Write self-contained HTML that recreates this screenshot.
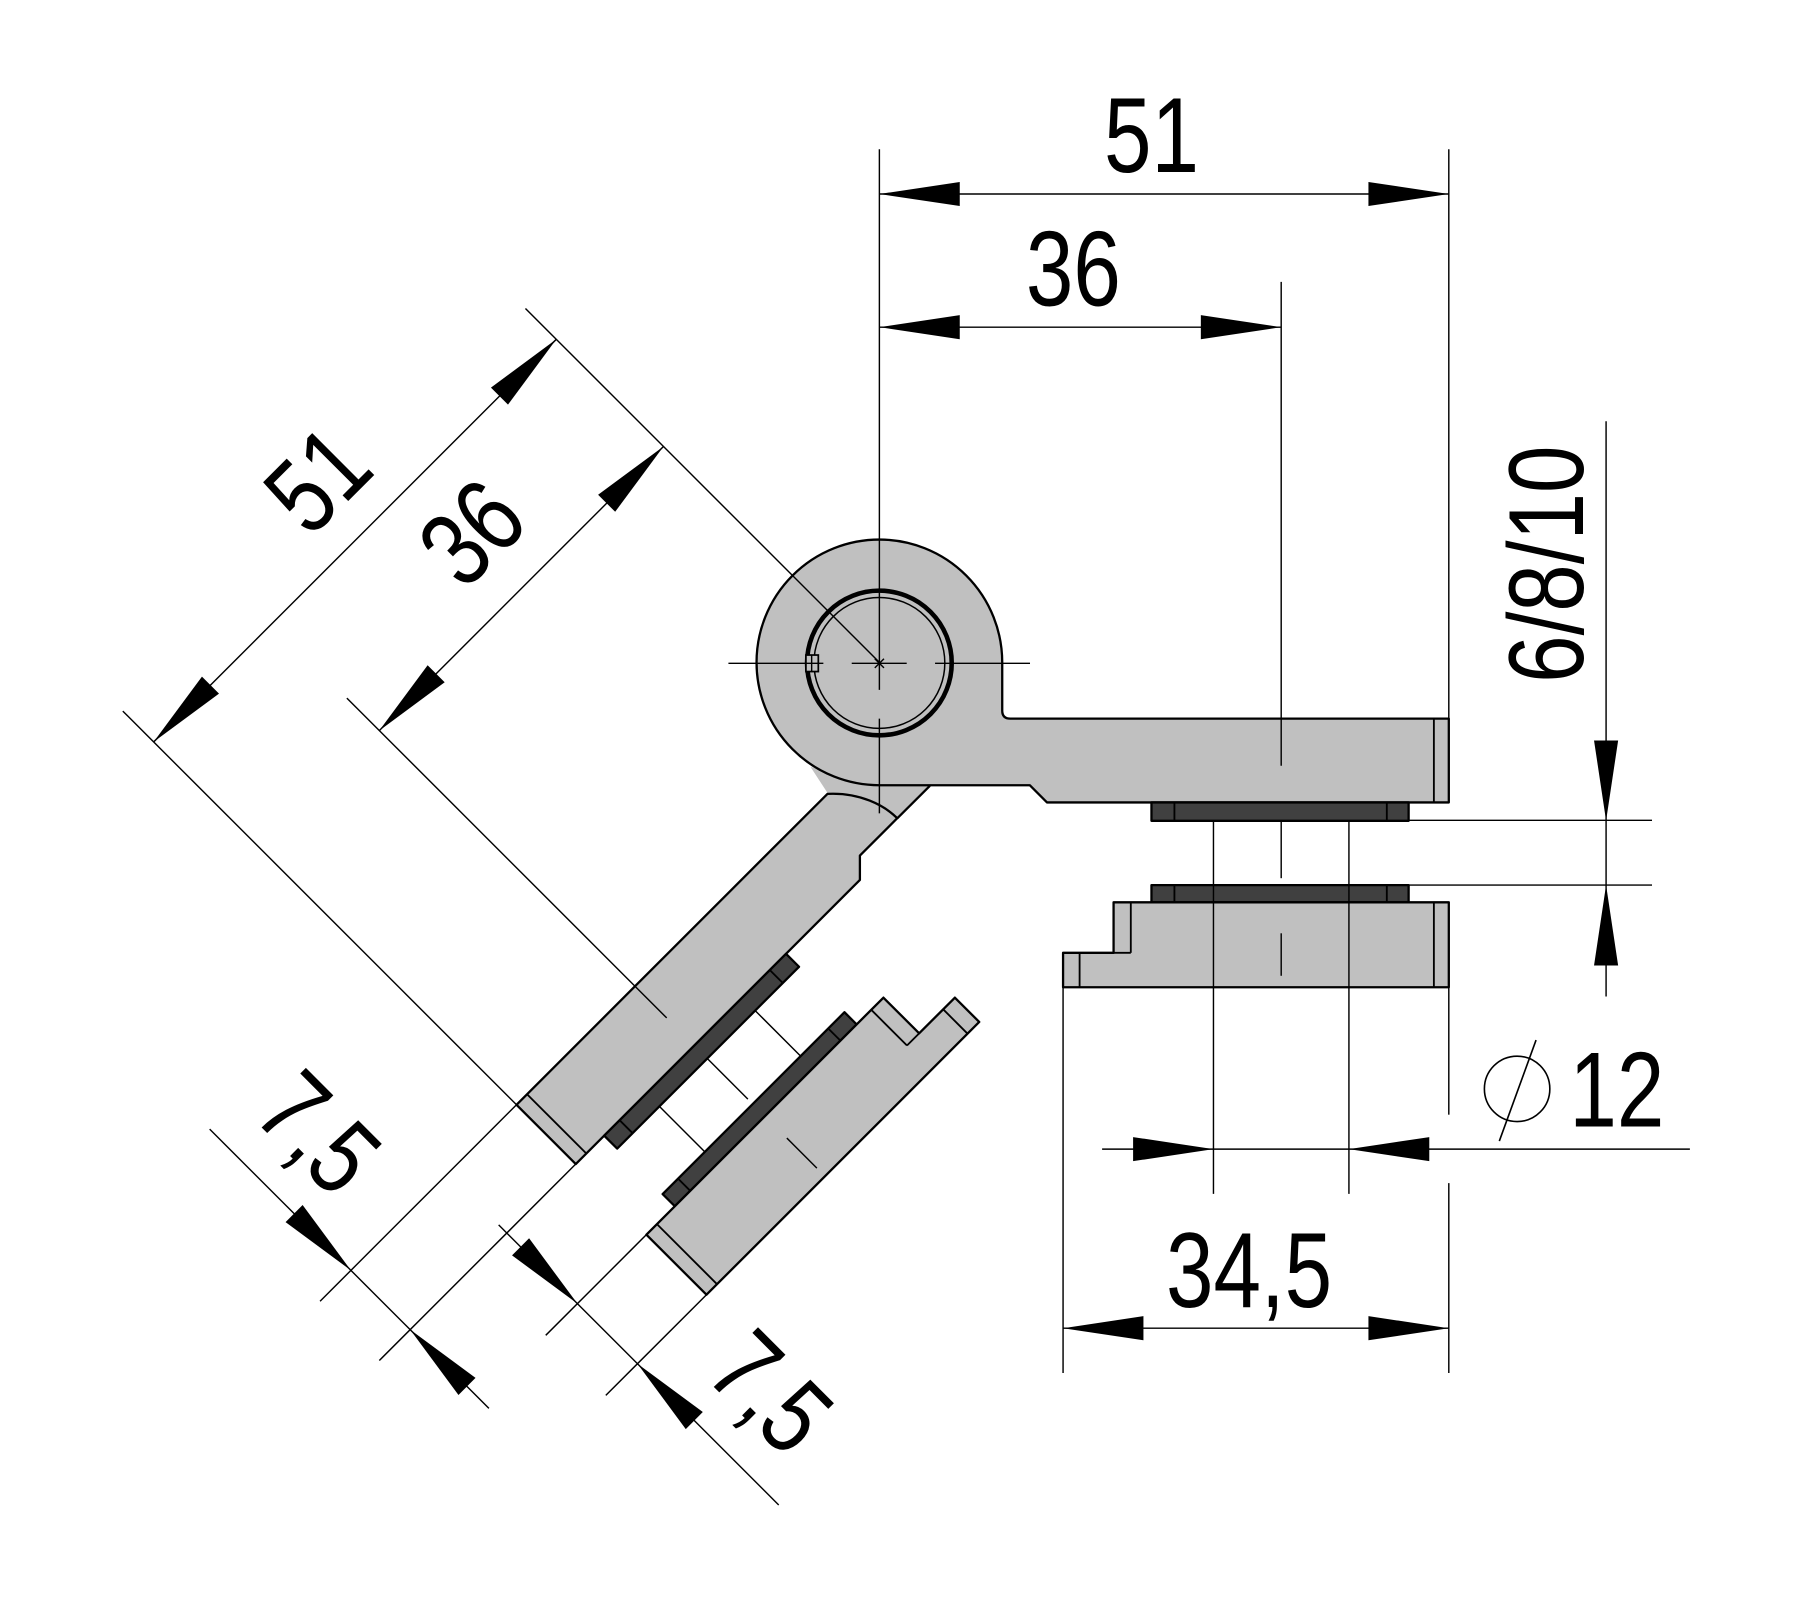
<!DOCTYPE html>
<html>
<head>
<meta charset="utf-8">
<style>
html,body{margin:0;padding:0;background:#fff;overflow:hidden;}
svg{display:block;}
.o{stroke:#000;stroke-width:2;stroke-linejoin:round;}
.s{stroke:#000;stroke-width:1.6;fill:none;}
.t{stroke:#000;stroke-width:1.25;fill:none;}
.g{fill:#c0c0c0;}
.d{fill:#404040;}
.txt{font-family:"Liberation Sans",Arial,sans-serif;font-size:93px;fill:#000;}
</style>
</head>
<body>
<svg xmlns="http://www.w3.org/2000/svg" width="1797" height="1609" viewBox="0 0 1565.3 1401.6" preserveAspectRatio="none">
<rect x="-10" y="-10" width="1600" height="1430" fill="#fff"/>

<!-- filler in the joint region -->
<path d="M706,668 L721,691 L781.6,712.8 L810,684.5 L766,684 Z" class="g"/>

<!-- LEFT (mirrored) assembly -->
<g transform="matrix(-0.70711 0.70711 0.70711 0.70711 899.64 -372.65)">
  <!-- arm B -->
  <path class="g o" d="M879,626 L1262,626 L1262,699 L912,699 L897,684 L851,684 C851,668 858,645 879,626 Z"/>
  <line class="s" x1="1249" y1="626" x2="1249" y2="699"/>
  <!-- pads -->
  <rect class="d o" x="1003" y="699" width="224" height="16"/>
  <line class="s" x1="1023" y1="699" x2="1023" y2="715"/>
  <line class="s" x1="1208" y1="699" x2="1208" y2="715"/>
  <rect class="d o" x="1003" y="771" width="224" height="15"/>
  <line class="s" x1="1023" y1="771" x2="1023" y2="786"/>
  <line class="s" x1="1208" y1="771" x2="1208" y2="786"/>
  <!-- lower plate -->
  <path class="g o" d="M970,786 L1262,786 L1262,860 L926,860 L926,830 L970,830 Z"/>
  <line class="s" x1="985" y1="786" x2="985" y2="830"/>
  <line class="s" x1="970" y1="830" x2="985" y2="830"/>
  <line class="s" x1="940.4" y1="830" x2="940.4" y2="860"/>
  <line class="s" x1="1249" y1="786" x2="1249" y2="860"/>
  <!-- lines between pads -->
  <line class="t" x1="1057" y1="715" x2="1057" y2="771"/>
  <line class="t" x1="1175" y1="715" x2="1175" y2="771"/>
  <line class="t" x1="1116" y1="715" x2="1116" y2="765"/>
  <line class="t" x1="1116" y1="813" x2="1116" y2="850"/>
</g>
<line class="o" x1="781.6" y1="712.8" x2="810" y2="684.5"/>

<!-- RIGHT assembly: knuckle + arm A -->
<path class="g o" d="M873,577 A107,107 0 1 0 766,684 L897,684 L912,699 L1262,699 L1262,626 L880,626 Q873,626 873,619 Z"/>
<line class="s" x1="1249" y1="626" x2="1249" y2="699"/>
<!-- pads -->
<rect class="d o" x="1003" y="699" width="224" height="16"/>
<line class="s" x1="1023" y1="699" x2="1023" y2="715"/>
<line class="s" x1="1208" y1="699" x2="1208" y2="715"/>
<rect class="d o" x="1003" y="771" width="224" height="15"/>
<line class="s" x1="1023" y1="771" x2="1023" y2="786"/>
<line class="s" x1="1208" y1="771" x2="1208" y2="786"/>
<!-- lower plate -->
<path class="g o" d="M970,786 L1262,786 L1262,860 L926,860 L926,830 L970,830 Z"/>
<line class="s" x1="985" y1="786" x2="985" y2="830"/>
<line class="s" x1="970" y1="830" x2="985" y2="830"/>
<line class="s" x1="940.4" y1="830" x2="940.4" y2="860"/>
<line class="s" x1="1249" y1="786" x2="1249" y2="860"/>
<!-- center dashes -->
<line class="t" x1="1116" y1="715" x2="1116" y2="765"/>
<line class="t" x1="1116" y1="813" x2="1116" y2="850"/>

<!-- bore -->
<circle cx="766" cy="577.5" r="63" fill="none" stroke="#000" stroke-width="4"/>
<circle cx="766" cy="577.5" r="57" fill="none" stroke="#000" stroke-width="1.3"/>
<rect x="702" y="570.6" width="10.8" height="14.4" fill="#c0c0c0" stroke="#000" stroke-width="1.5"/>
<line class="t" x1="707" y1="570.6" x2="707" y2="585"/>

<!-- centerlines -->
<line class="t" x1="766" y1="130" x2="766" y2="601"/>
<line class="t" x1="766" y1="626" x2="766" y2="708.5"/>
<line class="t" x1="634.5" y1="577.8" x2="717.2" y2="577.8"/>
<line class="t" x1="741.9" y1="577.8" x2="789.8" y2="577.8"/>
<line class="t" x1="814.5" y1="577.8" x2="897.2" y2="577.8"/>
<line class="t" x1="762" y1="573.8" x2="770" y2="581.8"/>
<line class="t" x1="770" y1="573.8" x2="762" y2="581.8"/>

<!-- ===== RIGHT DIMENSIONS ===== -->
<!-- 51 -->
<line class="t" x1="1262" y1="130" x2="1262" y2="626"/>
<line class="t" x1="766" y1="169" x2="1262" y2="169"/>
<polygon points="766,169 836,158.5 836,179.5"/>
<polygon points="1262,169 1192,158.5 1192,179.5"/>
<!-- 36 -->
<line class="t" x1="1116" y1="245.5" x2="1116" y2="667"/>
<line class="t" x1="766" y1="285" x2="1116" y2="285"/>
<polygon points="766,285 836,274.5 836,295.5"/>
<polygon points="1116,285 1046,274.5 1046,295.5"/>
<!-- 6/8/10 -->
<line class="t" x1="1227" y1="714.6" x2="1439" y2="714.6"/>
<line class="t" x1="1227" y1="771" x2="1439" y2="771"/>
<line class="t" x1="1399" y1="367" x2="1399" y2="868"/>
<polygon points="1399,715 1388.5,645 1409.5,645"/>
<polygon points="1399,771 1388.5,841 1409.5,841"/>
<!-- Ø12 -->
<line class="t" x1="1057" y1="715" x2="1057" y2="1040"/>
<line class="t" x1="1175" y1="715" x2="1175" y2="1040"/>
<line class="t" x1="960" y1="1001" x2="1472" y2="1001"/>
<polygon points="1057,1001 987,990.5 987,1011.5"/>
<polygon points="1175,1001 1245,990.5 1245,1011.5"/>
<circle cx="1321.5" cy="948.5" r="28.5" fill="none" stroke="#000" stroke-width="1.4"/>
<line x1="1306" y1="994" x2="1338" y2="906" stroke="#000" stroke-width="1.4"/>
<!-- 34,5 -->
<line class="t" x1="926" y1="860" x2="926" y2="1196"/>
<line class="t" x1="1262" y1="860" x2="1262" y2="971"/>
<line class="t" x1="1262" y1="1030.6" x2="1262" y2="1196"/>
<line class="t" x1="926" y1="1157" x2="1262" y2="1157"/>
<polygon points="926,1157 996,1146.5 996,1167.5"/>
<polygon points="1262,1157 1192,1146.5 1192,1167.5"/>

<!-- ===== LEFT DIMENSIONS ===== -->
<line class="t" x1="457.7" y1="268.7" x2="766" y2="577"/>
<line class="t" x1="106.97" y1="619.43" x2="449.92" y2="962.37"/>
<line class="t" x1="302.14" y1="608.11" x2="580.74" y2="886.71"/>
<!-- 51 -->
<line class="t" x1="484.57" y1="295.57" x2="133.84" y2="646.30"/>
<polygon points="484.57,295.57 427.65,337.64 442.50,352.49"/>
<polygon points="133.84,646.30 175.92,589.37 190.77,604.22"/>
<!-- 36 -->
<line class="t" x1="577.91" y1="388.91" x2="330.42" y2="636.40"/>
<polygon points="577.91,388.91 520.99,430.98 535.84,445.83"/>
<polygon points="330.42,636.40 372.49,579.47 387.34,594.32"/>
<!-- 7,5 #1 -->
<line class="t" x1="449.92" y1="962.37" x2="278.80" y2="1133.50"/>
<line class="t" x1="501.54" y1="1014.0" x2="330.42" y2="1185.11"/>
<line class="t" x1="182.63" y1="983.59" x2="425.88" y2="1226.83"/>
<polygon points="305.67,1106.63 263.60,1049.70 248.75,1064.55"/>
<polygon points="357.29,1158.24 414.21,1200.32 399.36,1215.17"/>
<!-- 7,5 #2 -->
<line class="t" x1="563.06" y1="1075.51" x2="475.38" y2="1163.19"/>
<line class="t" x1="615.39" y1="1127.84" x2="527.70" y2="1215.52"/>
<line class="t" x1="434.37" y1="1067.03" x2="678.32" y2="1310.98"/>
<polygon points="502.96,1135.62 460.88,1078.69 446.03,1093.54"/>
<polygon points="555.28,1187.94 612.20,1230.02 597.35,1244.87"/>

<!-- ===== TEXT ===== -->
<g class="txt" text-anchor="middle">
  <text transform="translate(1003,150) scale(0.8,1)">51</text>
  <text transform="translate(935,266) scale(0.8,1)">36</text>
  <text transform="translate(1088,1138.5) scale(0.8,1)">34,5</text>
  <text transform="translate(1408.4,981.4) scale(0.8,1)">12</text>
  <text transform="translate(1379,491.5) rotate(-90) scale(0.8,1)">6/8/10</text>
  <text transform="translate(299.3,440.4) rotate(-45) scale(0.8,1)">51</text>
  <text transform="translate(433.6,486.6) rotate(-45) scale(0.8,1)">36</text>
  <text transform="translate(255.1,1009.4) rotate(45) scale(0.8,1)">7,5</text>
  <text transform="translate(648.9,1235.3) rotate(45) scale(0.8,1)">7,5</text>
</g>
</svg>
</body>
</html>
